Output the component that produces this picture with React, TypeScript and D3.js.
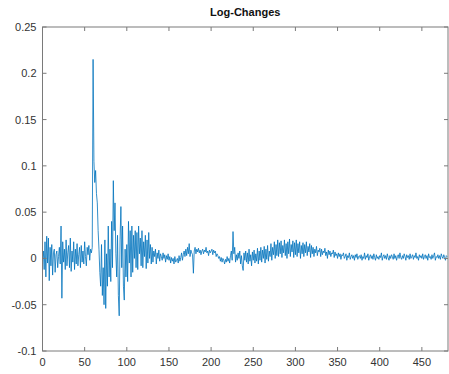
import React from "react";
import * as d3 from "d3";

// values in thousandths, index = sample number (0..480)
const logChanges: number[] = [
  0, 8, -12, 18, -20, 24, -5, 22, -24, 12,
  -8, 15, -18, 6, 10, -15, 4, 8, -10, 2,
  12, -6, 35, -43, 18, -4, 10, -12, 20, -8,
  6, 14, -10, 22, -14, 8, -4, 18, -12, 10,
  -6, 16, -8, 4, 12, -10, 14, -4, 8, -6,
  18, 2, -8, 12, 4, 14, -2, 10, 6, 12,
  215, 105, 82, 95, 70, 60, 30, 10, -15, -30,
  15, -40, -10, -50, 20, -54, 5, -30, 35, -20,
  10, -25, 40, -10, 84, 30, 60, 5, -20, 25,
  -40, -62, 20, 56, -10, 35, -30, -45, 10, -20,
  15, -25, 40, -5, 30, -20, 35, -15, 25, 0,
  30, -10, 28, -12, 35, 5, 22, -8, 30, -10,
  18, 2, 25, -11, 20, -5, 28, 0, 15, -6,
  12, -4, 8, 2, 10, -6, 6, 0, 9, -3,
  5, 2, -2, 6, 0, 4, -4, 3, -1, 5,
  -2, 2, -5, 1, -3, 0, -6, 2, -4, -2,
  0, -5, 3, -3, 1, 6, -2, 4, 8, 2,
  10, 3, 12, 5, 16, 2, 9, 6, 4, -16,
  8, 12, 5, 10, 7, 11, 6, 9, 4, 8,
  10, 5, 9, 7, 12, 6, 8, 3, 9, 6,
  8, 10, 4, 9, 6, 8, 2, 5, 3, 0,
  2, -3, 1, -4, 0, -2, -6, -1, -4, 2,
  -3, 0, -5, 3, 8, -2, 29, 5, 12, -4,
  4, -2, 6, 0, 8, -6, 3, -8, -13, 6,
  -2, 8, -4, 6, -6, 10, -3, 4, -8, 7,
  -2, 9, -5, 5, -3, 11, -6, 8, -2, 12,
  -4, 9, 0, 13, -5, 10, -1, 14, -3, 8,
  2, 16, -2, 12, 4, 18, 0, 15, 3, 20,
  2, 17, 5, 19, 1, 14, 6, 20, 3, 16,
  0, 18, 5, 21, 2, 15, 7, 19, 1, 17,
  4, 20, 2, 16, 6, 18, 0, 14, 5, 17,
  2, 15, 6, 18, 3, 13, 7, 16, 1, 14,
  5, 12, 2, 10, 6, 13, 3, 9, 7, 11,
  2, 10, 4, 8, 6, 11, 3, 7, 0, 9,
  4, 8, 2, 6, 5, 9, 1, 7, 3, 5,
  0, 6, 2, 5, -1, 4, 3, 6, 0, 2,
  5, -2, 3, 1, 6, -1, 2, 4, 0, 3,
  -2, 4, 1, 5, -1, 2, 3, 0, 4, -2,
  2, 0, 6, -1, 3, 1, 5, -2, 2, 4,
  0, 3, -1, 5, 1, -2, 4, 0, 2, -1,
  3, 1, 6, -2, 2, 4, 0, 3, -1, 5,
  1, -2, 3, 0, 4, 2, -1, 5, 0, 3,
  -2, 2, 4, 0, 6, 1, -1, 3, 0, 5,
  2, -2, 4, 1, 3, -1, 5, 0, 2, 4,
  -1, 3, 1, 6, 0, 2, -2, 4, 1, 3,
  0, 5, -1, 2, 4, 0, 3, -2, 5, 1,
  2, -1, 4, 0, 3, 6, -2, 2, 1, 4,
  0, 3, -1, 5, 2, 0, 4, 1, -2, 3,
  2,
];

const xTicks = [0, 50, 100, 150, 200, 250, 300, 350, 400, 450];
const yTicks = [-0.1, -0.05, 0, 0.05, 0.1, 0.15, 0.2, 0.25];
const yTickLabels = ["-0.1", "-0.05", "0", "0.05", "0.1", "0.15", "0.2", "0.25"];
const title = "Log-Changes";

const W = 449;
const H = 374;
const left = 42.5;
const right = 448;
const top = 27;
const bottom = 351;

export default function App() {
  const x = d3.scaleLinear().domain([0, 481]).range([left, right]);
  const y = d3.scaleLinear().domain([-0.1, 0.25]).range([bottom, top]);
  const line = d3
    .line<number>()
    .x((_, i) => x(i))
    .y((d) => y(d / 1000));
  const axisColor = "#7a7a7a";
  const textColor = "#333";
  const font = "'Liberation Sans', Arial, sans-serif";
  const tl = 4;
  return (
    <svg
      width={W}
      height={H}
      style={{ position: "absolute", left: 0, top: 0, background: "#fff" }}
      fontFamily={font}
    >
      <rect x={0} y={0} width={W} height={H} fill="#fff" />
      <path
        d={line(logChanges) || ""}
        fill="none"
        stroke="#0072BD"
        strokeWidth={0.8}
        strokeLinejoin="round"
      />
      <rect
        x={left}
        y={top}
        width={right - left}
        height={bottom - top}
        fill="none"
        stroke={axisColor}
        strokeWidth={1}
      />
      {xTicks.map((t) => (
        <g key={"x" + t}>
          <line x1={x(t)} x2={x(t)} y1={bottom} y2={bottom - tl} stroke={axisColor} />
          <line x1={x(t)} x2={x(t)} y1={top} y2={top + tl} stroke={axisColor} />
          <text
            x={x(t)}
            y={bottom + 15}
            textAnchor="middle"
            fontSize={11}
            fill={textColor}
          >
            {t}
          </text>
        </g>
      ))}
      {yTicks.map((t, i) => (
        <g key={"y" + t}>
          <line x1={left} x2={left + tl} y1={y(t)} y2={y(t)} stroke={axisColor} />
          <line x1={right} x2={right - tl} y1={y(t)} y2={y(t)} stroke={axisColor} />
          <text
            x={left - 6}
            y={y(t) + 4}
            textAnchor="end"
            fontSize={11}
            fill={textColor}
          >
            {yTickLabels[i]}
          </text>
        </g>
      ))}
      <text
        x={(left + right) / 2}
        y={16}
        textAnchor="middle"
        fontSize={11}
        fontWeight="bold"
        fill="#111"
      >
        {title}
      </text>
    </svg>
  );
}
